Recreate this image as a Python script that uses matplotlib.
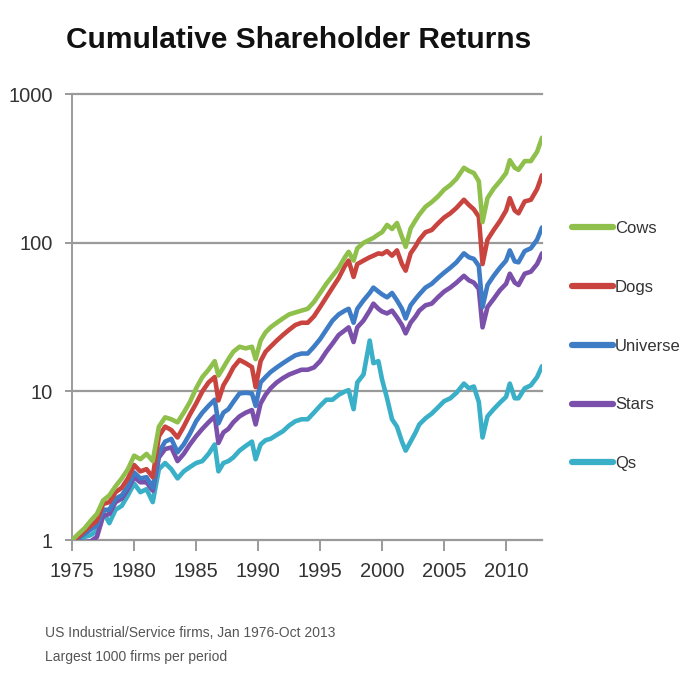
import matplotlib
matplotlib.use("Agg")
import matplotlib.pyplot as plt
from matplotlib.ticker import FixedLocator, NullLocator

plt.rcParams['font.family'] = ['Liberation Sans', 'DejaVu Sans']

# time axis (as labelled on the chart) and the five return series
years = [1975.0, 1975.5, 1976.0, 1976.5, 1977.0, 1977.5, 1978.0, 1978.5, 1979.0, 1979.5,
         1980.0, 1980.5, 1981.0, 1981.5, 1982.0, 1982.5, 1983.0, 1983.5, 1984.0, 1984.5,
         1985.0, 1985.5, 1986.0, 1986.5, 1986.8, 1987.2, 1987.6, 1988.0, 1988.5, 1989.0,
         1989.5, 1989.8, 1990.2, 1990.6, 1991.0, 1991.5, 1992.0, 1992.5, 1993.0, 1993.5,
         1994.0, 1994.5, 1995.0, 1995.5, 1996.0, 1996.5, 1997.0, 1997.3, 1997.7, 1998.0,
         1998.5, 1999.0, 1999.3, 1999.7, 2000.0, 2000.4, 2000.8, 2001.2, 2001.6, 2001.9,
         2002.3, 2002.7, 2003.0, 2003.5, 2004.0, 2004.5, 2005.0, 2005.5, 2006.0, 2006.6,
         2007.0, 2007.4, 2007.8, 2008.1, 2008.5, 2009.0, 2009.5, 2010.0, 2010.3, 2010.7,
         2011.0, 2011.5, 2012.0, 2012.5, 2012.9]

cows = [1.0, 1.1, 1.2, 1.35, 1.5, 1.85, 2.0, 2.3, 2.6, 3.0,
        3.7, 3.5, 3.8, 3.4, 5.8, 6.7, 6.5, 6.2, 7.2, 8.5,
        10.5, 12.5, 14, 16, 12.8, 14.5, 16.5, 18.5, 20, 19.5,
        20, 16.5, 22, 25, 27, 29, 31, 33, 34, 35,
        36, 40, 46, 53, 60, 68, 80, 87, 76, 92,
        100, 105, 108, 114, 118, 132, 124, 136, 110, 94,
        125, 142, 155, 175, 188, 205, 228, 245, 270, 320,
        305, 295, 260, 138, 200, 232, 260, 295, 360, 320,
        310, 355, 355, 410, 510]

dogs = [1.0, 1.05, 1.15, 1.25, 1.35, 1.75, 1.8, 2.1, 2.25, 2.6,
        3.2, 2.9, 3.0, 2.65, 5.0, 5.8, 5.5, 4.9, 5.8, 7.0,
        8.3, 10, 11.5, 12.5, 8.7, 11, 12.5, 14.5, 16.3, 15.5,
        14.6, 10.7, 16, 18.5, 20, 22, 24, 26, 28, 29,
        29, 32, 37, 43, 50, 58, 70, 76, 59, 72,
        76, 80, 82, 85, 84, 88, 82, 89, 72, 65,
        85, 95, 105, 118, 122, 135, 148, 158, 172, 195,
        180, 168, 150, 72, 105, 122, 140, 165, 200, 165,
        158, 190, 195, 230, 285]

universe = [1.0, 1.03, 1.1, 1.18, 1.25, 1.6, 1.6, 1.9, 2.0, 2.3,
            2.85, 2.6, 2.65, 2.25, 3.9, 4.6, 4.8, 3.9, 4.4, 5.2,
            6.3, 7.2, 8.0, 8.8, 6.1, 7.2, 7.6, 8.5, 9.7, 9.8,
            9.7, 8.0, 11.5, 12.5, 13.5, 14.5, 15.5, 16.5, 17.5, 18,
            18, 20, 22.5, 26, 30, 33, 35, 36, 29, 36,
            41, 46, 50, 47, 45, 43, 46, 41, 36, 31,
            38, 42, 45, 50, 53, 58, 63, 68, 74, 85,
            80, 78, 70, 37, 52, 60, 68, 76, 89, 75,
            74, 88, 92, 105, 127]

stars = [1.0, 0.98, 0.97, 0.98, 1.05, 1.45, 1.5, 1.8, 1.9, 2.2,
         2.65, 2.45, 2.45, 2.15, 3.6, 4.1, 4.2, 3.4, 3.8, 4.4,
         5.0, 5.6, 6.2, 6.8, 4.5, 5.3, 5.6, 6.2, 6.8, 7.2,
         7.5, 6.0, 8.3, 9.5, 10.5, 11.5, 12.3, 13, 13.5, 14,
         14, 14.5, 16, 18.5, 21, 24, 25.8, 27, 21.5, 27,
         30, 35, 39, 36, 34.5, 33.5, 35, 31.5, 28, 24.6,
         29, 32, 35, 38, 39, 43, 47, 50, 54, 60,
         56, 54, 49, 27, 37, 42, 48, 53, 62, 54,
         52, 62, 64, 72, 85]

qs = [1.0, 0.98, 1.05, 1.08, 1.15, 1.55, 1.3, 1.6, 1.7, 2.0,
      2.4, 2.1, 2.2, 1.8, 3.0, 3.3, 3.0, 2.6, 2.9, 3.1,
      3.3, 3.4, 3.8, 4.4, 2.9, 3.3, 3.4, 3.6, 4.0, 4.3,
      4.6, 3.5, 4.4, 4.7, 4.8, 5.1, 5.4, 5.9, 6.3, 6.5,
      6.5, 7.2, 8.0, 8.8, 8.8, 9.5, 10, 10.2, 7.6, 11.5,
      13, 22, 15.5, 16, 12, 9.0, 6.5, 5.8, 4.6, 4.0,
      4.6, 5.3, 6.0, 6.6, 7.1, 7.8, 8.6, 9.0, 9.8, 11.3,
      10.5, 10.8, 8.5, 4.9, 6.8, 7.6, 8.4, 9.2, 11.3, 9.0,
      9.0, 10.5, 11.0, 12.5, 14.8]

labels = ["Cows", "Dogs", "Universe", "Stars", "Qs"]
colors = ["#8FC04C", "#C9443F", "#3F7CC6", "#7A50AA", "#3AAFC8"]

x_ticks = [1975, 1980, 1985, 1990, 1995, 2000, 2005, 2010]
y_ticks = [1, 10, 100, 1000]

fig = plt.figure(figsize=(6.87, 6.88), dpi=100)
ax = fig.add_axes([0.105, 0.215, 0.684, 0.648])

grid_col = "#9a9a9a"
for v in y_ticks:
    ax.axhline(v, color=grid_col, lw=1.6, zorder=1, clip_on=False)

series = [cows, dogs, universe, stars, qs]
# draw back to front so Cows sits on top like the original
for vals, lab, col in list(zip(series, labels, colors))[::-1]:
    ax.plot(years, vals, color=col, lw=3.3, label=lab, solid_capstyle='round',
            solid_joinstyle='round', zorder=3)

ax.set_yscale('log')
ax.set_ylim(1, 1000)
ax.set_xlim(1975, 2012.9)
ax.yaxis.set_major_locator(FixedLocator(y_ticks))
ax.yaxis.set_minor_locator(NullLocator())
ax.set_yticklabels([str(v) for v in y_ticks])
ax.set_xticks(x_ticks)
ax.set_xticklabels([str(v) for v in x_ticks])

for s in ['top', 'right', 'bottom']:
    ax.spines[s].set_visible(False)
ax.spines['left'].set_color(grid_col)
ax.spines['left'].set_linewidth(1.4)

ax.tick_params(axis='y', length=5, width=1.4, color=grid_col, pad=9,
               labelsize=14.5, labelcolor="#333333")
ax.tick_params(axis='x', length=8, width=1.4, color=grid_col, pad=8,
               labelsize=14.5, labelcolor="#333333")

handles, labs = ax.get_legend_handles_labels()
handles, labs = handles[::-1], labs[::-1]
leg = fig.legend(handles, labs, loc='center left', bbox_to_anchor=(0.823, 0.497),
                 frameon=False, fontsize=12, handlelength=2.45, handletextpad=0.12,
                 labelspacing=2.63, borderaxespad=0)
for ln in leg.get_lines():
    ln.set_linewidth(4.5)
for t in leg.get_texts():
    t.set_color("#333333")

fig.text(0.434, 0.942, "Cumulative Shareholder Returns", ha='center', va='center',
         fontsize=21.5, fontweight='bold', color="#111111")
fig.text(0.065, 0.080, "US Industrial/Service firms, Jan 1976-Oct 2013", ha='left',
         va='center', fontsize=10, color="#555555")
fig.text(0.065, 0.045, "Largest 1000 firms per period", ha='left', va='center',
         fontsize=10, color="#555555")

fig.savefig("out.png", dpi=100)
